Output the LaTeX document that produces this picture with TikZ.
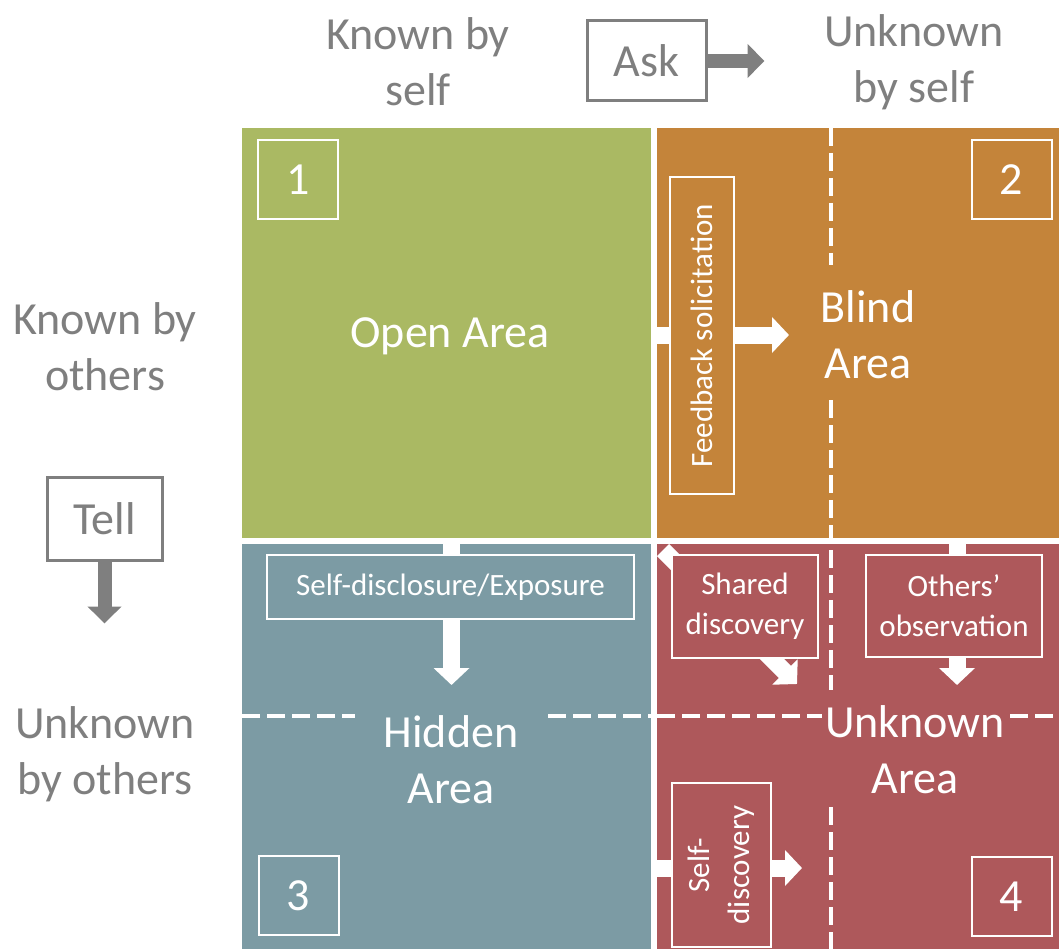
\documentclass[tikz,border=0pt]{standalone}
\usepackage{fontspec}
\setmainfont{Carlito}
\usetikzlibrary{arrows.meta}
\definecolor{openc}{HTML}{AAB963}
\definecolor{blindc}{HTML}{C4843A}
\definecolor{hiddenc}{HTML}{7C9BA4}
\definecolor{unknownc}{HTML}{AE585B}
\definecolor{axisc}{HTML}{7F7F7F}

\begin{document}
\begin{tikzpicture}[
    x = 1pt, y = -1pt,
    big/.style = {font=\fontsize{46}{56}\selectfont},
    small/.style = {font=\fontsize{31}{40}\selectfont},
    axislabel/.style = {big, text=axisc, align=center},
    arealabel/.style = {big, text=white, align=center},
    numbox/.style = {draw=white, line width=2pt, big, text=white, minimum width=80pt, minimum height=79pt, inner sep=0pt},
    tagbox/.style = {draw=white, line width=2pt, small, text=white, align=center, inner sep=0pt},
    axisbox/.style = {draw=axisc, line width=3pt, big, text=axisc, fill=white, inner sep=0pt},
    fatarrow/.style = {white, line width=17pt, -{Triangle[length=17pt 0 0, width=35pt 0 0]}},
    grayarrow/.style = {axisc, line width=14pt, -{Triangle[length=17pt 0 0, width=33pt 0 0]}},
    splitline/.style = {white, line width=4pt, dash pattern=on 18pt off 7pt},
  ]
  \useasboundingbox (0,0) rectangle (1059,949);
  % quadrants
  \fill[openc] (242,128) rectangle (651,538);
  \fill[blindc] (657,128) rectangle (1059,538);
  \fill[hiddenc] (242,544) rectangle (651,949);
  \fill[unknownc] (657,544) rectangle (1059,949);
  % dashed split lines
  \draw[splitline] (831,128) -- (831,265);
  \draw[splitline] (831,400) -- (831,690);
  \draw[splitline] (831,807) -- (831,949);
  \draw[splitline] (242,716) -- (355,716);
  \draw[splitline] (548,716) -- (651,716);
  \draw[splitline] (657,716) -- (822,716);
  \draw[splitline] (1010,716) -- (1059,716);
  % white arrows
  \draw[fatarrow] (654,335) -- (789,335);
  \draw[fatarrow] (451.5,541) -- (451.5,685);
  \draw[fatarrow] (663,550) -- (797,684);
  \draw[fatarrow] (957,541) -- (957,685);
  \draw[fatarrow] (654,868) -- (802,868);
  % axis labels
  \node[axislabel] (kself) at (418,62) {Known by\\self};
  \node[axislabel] (uself) at (914,62) {Unknown\\by self};
  \node[axislabel] (kothers) at (105,347) {Known by\\others};
  \node[axislabel] (uothers) at (105,754) {Unknown\\by others};
  \node[axisbox, minimum width=119pt, minimum height=80pt] (ask) at (646.5,61) {Ask};
  \node[axisbox, minimum width=115pt, minimum height=83pt] (tell) at (104.5,518.5) {Tell};
  \draw[grayarrow] (ask.east) -- ++(57,0);
  \draw[grayarrow] (tell.south) -- ++(0,62);
  % area names
  \node[arealabel] (open) at (450,336) {Open Area};
  \node[arealabel] (blind) at (868,335) {Blind\\Area};
  \node[arealabel] (hidden) at (451,760) {Hidden\\Area};
  \node[arealabel] (unknown) at (915,750) {Unknown\\Area};
  % numbers
  \node[numbox, fill=openc] (n1) at (298,179.5) {1};
  \node[numbox, fill=blindc] (n2) at (1011.5,179.5) {2};
  \node[numbox, fill=hiddenc] (n3) at (298.5,895.5) {3};
  \node[numbox, fill=unknownc] (n4) at (1011.5,896.5) {4};
  % process boxes
  \node[tagbox, fill=blindc, rotate=90, minimum width=317pt, minimum height=64pt] (feedback) at (702,335.5) {Feedback solicitation};
  \node[tagbox, fill=hiddenc, minimum width=367pt, minimum height=64pt] (disclose) at (450.5,587) {Self-disclosure/Exposure};
  \node[tagbox, fill=unknownc, minimum width=146pt, minimum height=103pt] (shared) at (745,606.5) {Shared\\discovery};
  \node[tagbox, fill=unknownc, minimum width=176pt, minimum height=102pt] (observe) at (954,606) {Others'\\observation};
  \node[tagbox, fill=unknownc, rotate=90, minimum width=164pt, minimum height=99pt] (selfdisc) at (721.5,865) {Self-\\discovery};
\end{tikzpicture}
\end{document}
